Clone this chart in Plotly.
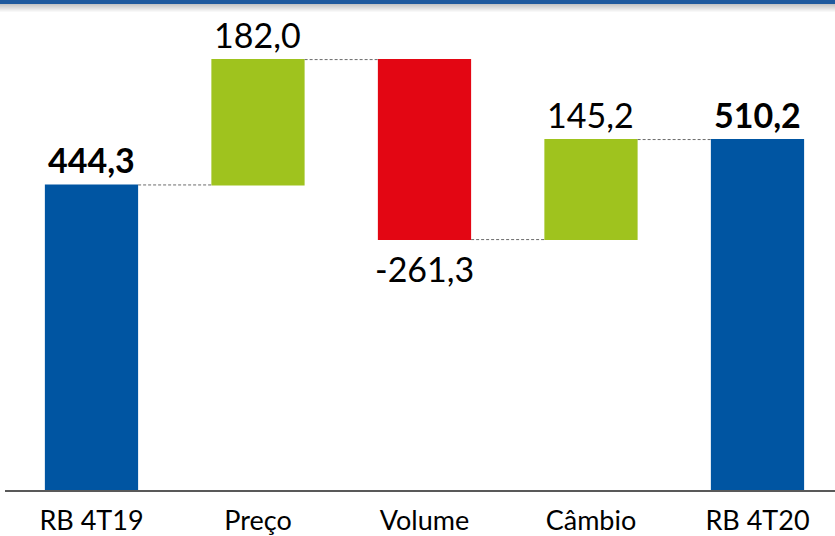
import plotly.graph_objects as go

categories = ["RB 4T19", "Preço", "Volume", "Câmbio", "RB 4T20"]
values = [444.3, 182.0, -261.3, 145.2, 510.2]
measures = ["absolute", "relative", "relative", "relative", "total"]
labels = ["<b>444,3</b>", "182,0", "-261,3", "145,2", "<b>510,2</b>"]

BLUE = "#0055A2"
GREEN = "#9FC31E"
RED = "#E30613"

fig = go.Figure()
fig.add_trace(go.Waterfall(
    x=categories, y=values, measure=measures,
    width=0.56,
    increasing=dict(marker=dict(color=GREEN, line=dict(width=0))),
    decreasing=dict(marker=dict(color=RED, line=dict(width=0))),
    totals=dict(marker=dict(color=BLUE, line=dict(width=0))),
    connector=dict(mode="between", line=dict(color="#6b6b6b", width=1, dash="3px,2px")),
    showlegend=False, hoverinfo="skip",
))

level = 0.0
for i, (c, v, m) in enumerate(zip(categories, values, measures)):
    if m in ("absolute", "total"):
        start, end = 0.0, v
        level = v
    else:
        start, end = level, level + v
        level = end
    if v >= 0:
        fig.add_annotation(x=c, y=max(start, end), text=labels[i], showarrow=False,
                           yanchor="bottom", yshift=3,
                           font=dict(family="Lato", size=34, color="black"))
    else:
        fig.add_annotation(x=c, y=min(start, end), text=labels[i], showarrow=False,
                           yanchor="top", yshift=-6,
                           font=dict(family="Lato", size=34, color="black"))

H = 491.0
shapes = [
    dict(type="line", xref="paper", yref="paper", x0=5/835, x1=1, y0=0, y1=0,
         line=dict(color="#595959", width=2)),
    dict(type="rect", xref="paper", yref="paper", x0=0, x1=1, y0=1 - 4/H, y1=1.0,
         line=dict(width=0), fillcolor="#1F5A9E"),
]
for k in range(8):
    a = 0.35 * (1 - k / 8)
    shapes.append(dict(type="rect", xref="paper", yref="paper", x0=0, x1=1,
                       y0=1 - (5 + k) / H, y1=1 - (4 + k) / H,
                       line=dict(width=0), fillcolor=f"rgba(90,90,90,{a:.3f})"))

fig.update_layout(
    width=835, height=536,
    margin=dict(l=0, r=0, t=0, b=45),
    paper_bgcolor="white", plot_bgcolor="white",
    shapes=shapes,
    xaxis=dict(range=[-0.5495, 4.4655], showgrid=False, showline=False, zeroline=False,
               tickfont=dict(family="Lato", size=27, color="black"),
               ticks="outside", ticklen=6, tickcolor="rgba(0,0,0,0)"),
    yaxis=dict(range=[0, 712.8], visible=False, showgrid=False, zeroline=False),
)

fig.write_html("out.html", config={"displayModeBar": False},
               post_script="document.body.style.margin='0';document.body.style.overflow='hidden';")
